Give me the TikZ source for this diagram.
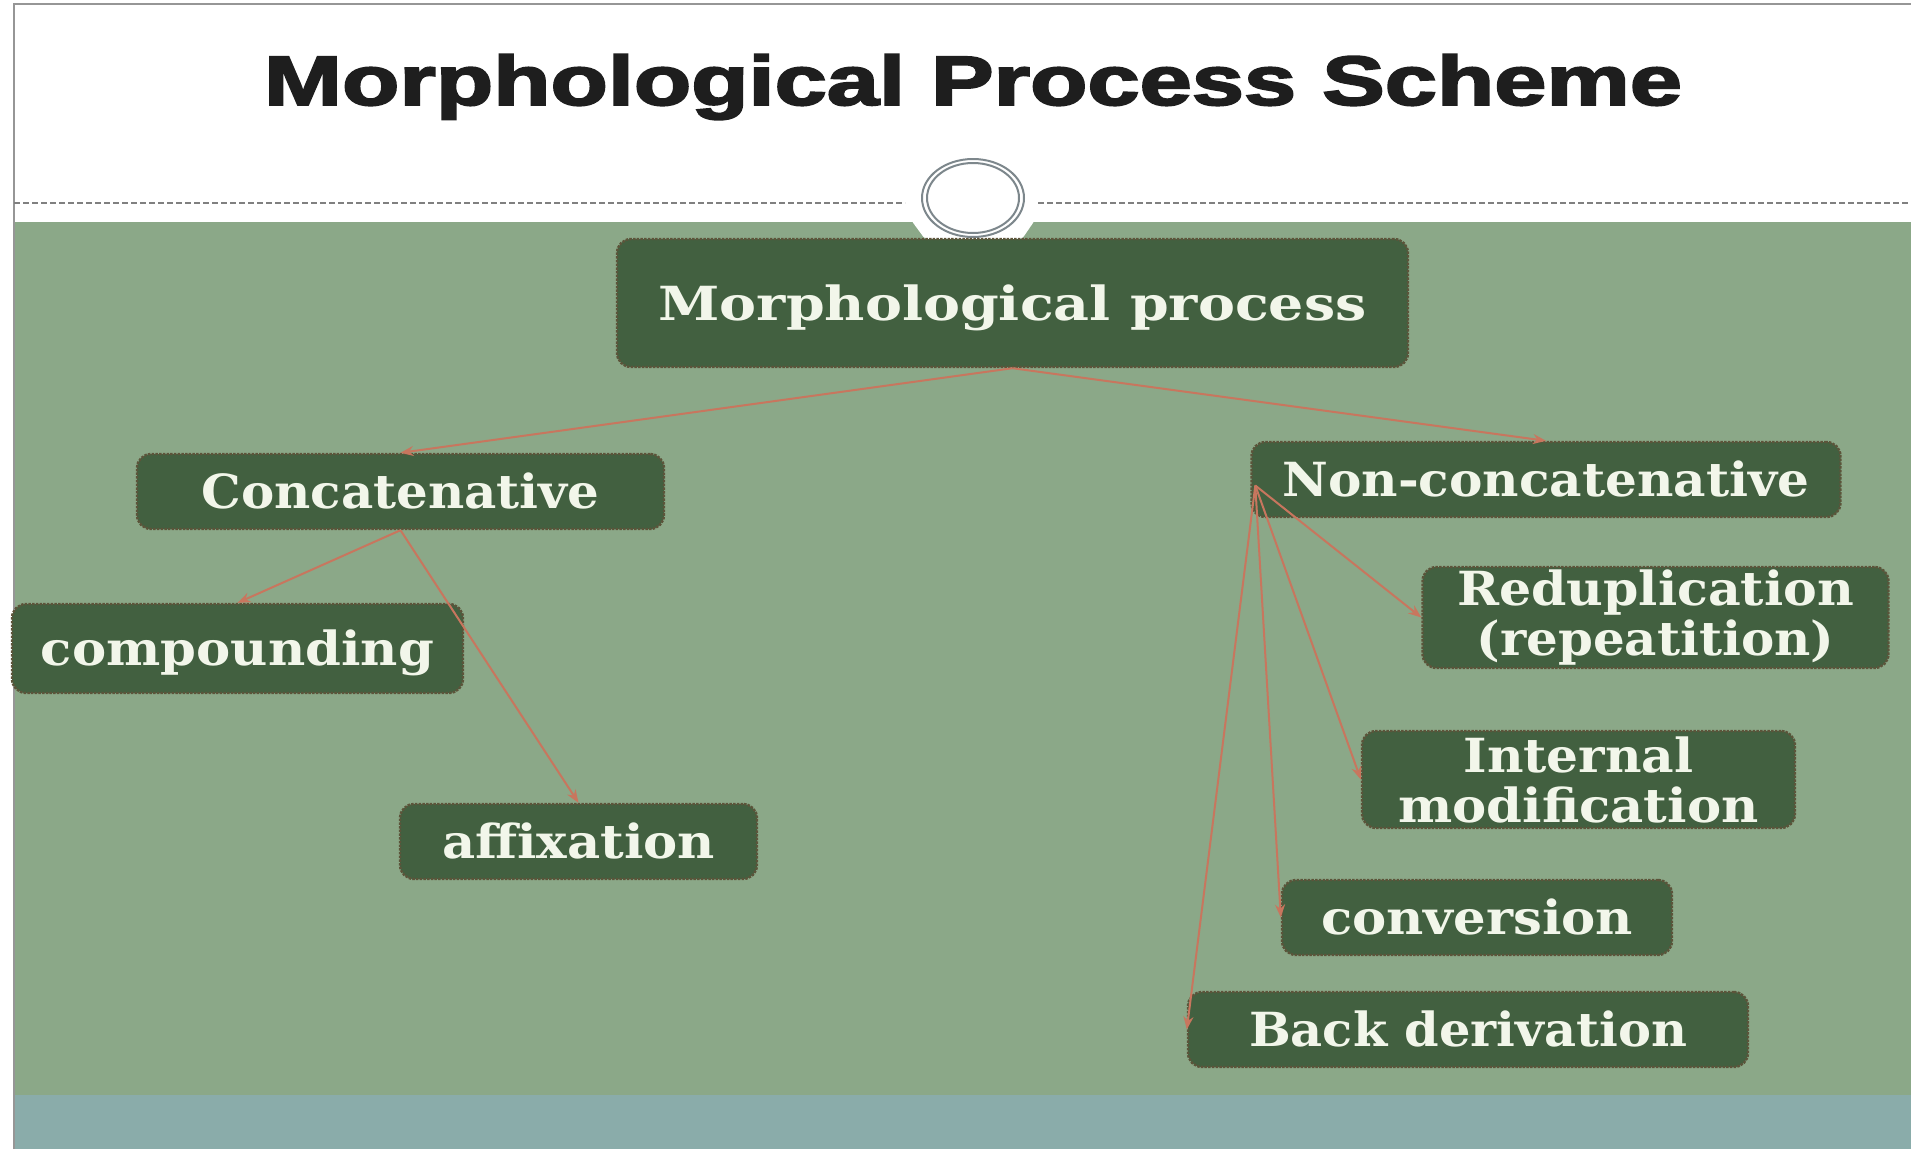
\documentclass[tikz,border=0pt]{standalone}
\usepackage{fontspec}
\usepackage{graphicx}
\usetikzlibrary{arrows.meta,calc}
\newfontfamily\boxfont{DejaVu Serif}
\newfontfamily\headfont{Liberation Sans}[BoldFeatures={FakeBold=2.5}]
% stretch a line of text to a given width, keeping its height
\newcommand\fitto[2]{\resizebox{#1}{\height}{#2}}
\definecolor{slidegreen}{RGB}{139,168,136}
\definecolor{slideteal}{RGB}{138,172,170}
\definecolor{boxgreen}{RGB}{66,96,64}
\definecolor{boxedge}{RGB}{92,84,58}
\definecolor{boxtext}{RGB}{242,246,234}
\definecolor{linkred}{RGB}{200,118,94}
\definecolor{framegray}{RGB}{150,150,150}
\definecolor{ringgray}{RGB}{125,135,140}
\definecolor{titleblack}{RGB}{30,30,30}
\begin{document}
\begin{tikzpicture}[x=1pt,y=-1pt,
  procbox/.style={rectangle, rounded corners=14pt, fill=boxgreen, draw=boxedge,
    line width=2.4pt, dash pattern=on 2.5pt off 1.2pt, text=boxtext,
    inner sep=0pt, align=center,
    font=\boxfont\bfseries\fontsize{47}{50}\selectfont},
  oneline/.style={procbox, text height=34pt, text depth=0pt},
  link/.style={draw=linkred, line width=2pt, solid,
    -{Stealth[length=13pt,width=10pt]}}
]
\useasboundingbox (0,0) rectangle (1911,1149);

% slide background
\fill[white] (0,0) rectangle (1911,1149);
\fill[slidegreen] (14,222) rectangle (1911,1095);
\fill[slideteal] (14,1095) rectangle (1911,1149);
\draw[framegray, line width=2pt] (14,1149) -- (14,4) -- (1911,4);

% title rule with the ring ornament
\draw[gray, line width=1.3pt, dash pattern=on 6pt off 3pt] (14,203) -- (905,203);
\draw[gray, line width=1.3pt, dash pattern=on 6pt off 3pt] (1038,203) -- (1911,203);
\fill[white, rounded corners=3pt] (911,220) -- (1035,220) -- (1022,239) -- (925,239) -- cycle;
\fill[white] (973,198) ellipse [x radius=51pt, y radius=39pt];
\draw[ringgray, line width=2pt] (973,198) ellipse [x radius=51pt, y radius=39pt];
\draw[ringgray, line width=2pt] (973,198) ellipse [x radius=46pt, y radius=35pt];

% title
\node[anchor=base, text=titleblack, inner sep=0pt,
  font=\headfont\bfseries\fontsize{70}{80}\selectfont] (title) at (973,105)
  {\fitto{1418pt}{Morphological Process Scheme}};

% process boxes
\node[oneline, minimum width=791pt, minimum height=128pt] (mp) at (1012.5,303)
  {\fitto{708pt}{Morphological process}};
\node[oneline, minimum width=527pt, minimum height=75pt] (cat) at (400.5,491.5)
  {\fitto{398pt}{Concatenative}};
\node[oneline, minimum width=451pt, minimum height=89pt] (comp) at (237.5,648.5)
  {\fitto{393pt}{compounding}};
\node[oneline, minimum width=357pt, minimum height=75pt] (affix) at (578.5,841.5)
  {\fitto{273pt}{affixation}};
\node[oneline, minimum width=589pt, minimum height=75pt] (noncat) at (1546,479.5)
  {\fitto{527pt}{Non-concatenative}};
\node[procbox, minimum width=466pt, minimum height=101pt] (redup) at (1655.5,617.5)
  {\fitto{397pt}{Reduplication}\\\fitto{358pt}{(repeatition)}};
\node[procbox, minimum width=433pt, minimum height=97pt] (intmod) at (1578.5,779.5)
  {\fitto{230pt}{Internal}\\\fitto{360pt}{modification}};
\node[oneline, minimum width=390pt, minimum height=75pt] (conv) at (1477,917.5)
  {\fitto{312pt}{conversion}};
\node[oneline, minimum width=560pt, minimum height=75pt] (back) at (1468,1029.5)
  {\fitto{438pt}{Back derivation}};

% connectors
\draw[link] (mp.south) -- (cat.north);
\draw[link] (mp.south) -- (noncat.north);
\draw[link] (cat.south) -- (comp.north);
\draw[link] (cat.south) -- (affix.north);
\coordinate (hub) at ($(noncat.west)+(5,6)$);
\draw[link] (hub) -- (redup.west);
\draw[link] (hub) -- (intmod.west);
\draw[link] (hub) -- (conv.west);
\draw[link] (hub) -- (back.west);
\end{tikzpicture}
\end{document}
